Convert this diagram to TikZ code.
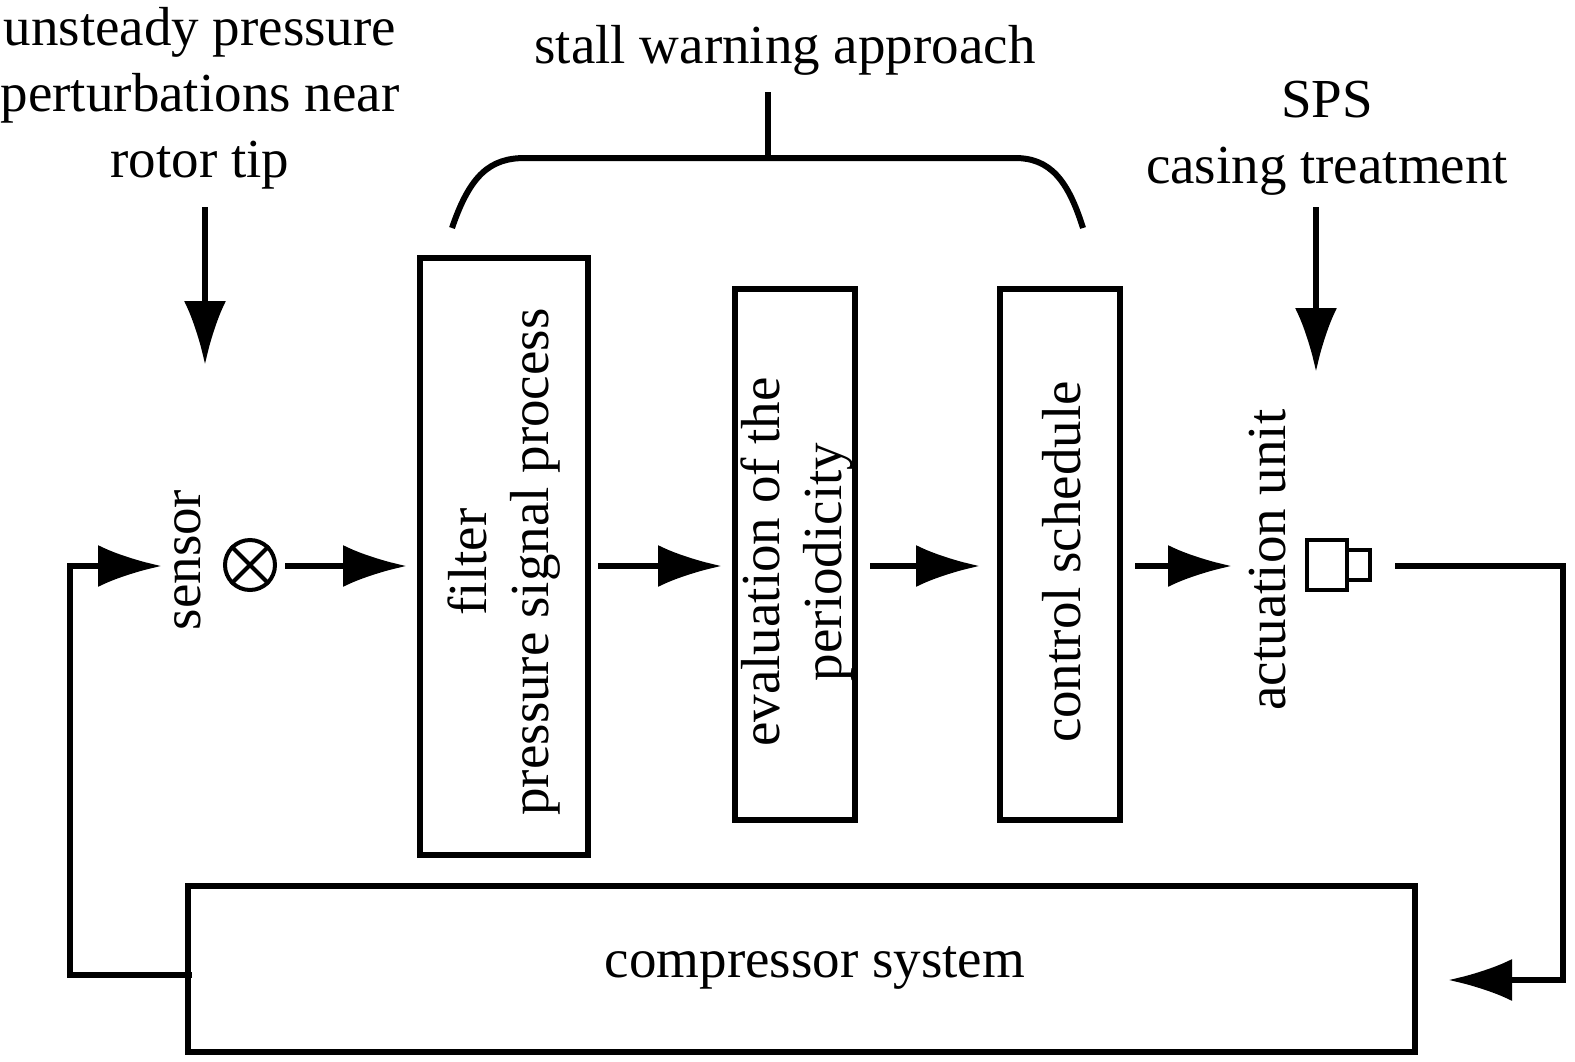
\documentclass[tikz,border=0pt]{standalone}
\usepackage{fontspec}
\setmainfont{Liberation Serif}
\usetikzlibrary{arrows.meta}
\begin{document}
\begin{tikzpicture}[x=0.5pt,y=-0.5pt,
  txt/.style={font=\fontsize{27.5}{31}\selectfont,inner sep=0pt,align=center},
  rtxt/.style={font=\fontsize{27.5}{31}\selectfont,inner sep=0pt,align=center,rotate=90},
  box/.style={draw,line width=2.6pt},
  ln/.style={line width=3pt},
  arr/.style={ln,-{Latex[length=32pt,width=21pt]}}]
\useasboundingbox (0,0) rectangle (1575,1061);
\node[txt] (t1) at (200,98) {unsteady pressure\\[2pt]perturbations near\\[2pt]rotor tip};
\node[txt] (t2) at (785,50) {stall warning approach};
\node[txt] (t3) at (1327,138) {SPS\\[2pt]casing treatment};
\coordinate (a1s) at (205,207); \coordinate (a1e) at (205,365);
\draw[arr] (a1s) -- (a1e);
\coordinate (a2s) at (1316,207); \coordinate (a2e) at (1316,372);
\draw[arr] (a2s) -- (a2e);
% brace
\coordinate (bt) at (768,92); \coordinate (bm) at (768,158);
\draw[ln] (bt) -- (bm);
\draw[ln] (452,228) .. controls (470,175) and (490,158) .. (525,158) -- (1015,158) .. controls (1050,158) and (1068,180) .. (1083,228);
% boxes
\draw[box] (420,258) rectangle (588,855);
\node[rtxt] (b1) at (504,562) {filter\\pressure signal process};
\draw[box] (735,289) rectangle (855,820);
\node[rtxt] (b2) at (797,562) {evaluation of the\\periodicity};
\draw[box] (1000,289) rectangle (1120,820);
\node[rtxt] (b3) at (1062,562) {control schedule};
\node[rtxt] (sen) at (188,560) {sensor};
\node[rtxt] (act) at (1268,560) {actuation unit};
\node[draw,circle,line width=2pt,minimum size=25pt,inner sep=0pt] (c) at (250,565) {};
\draw[line width=2pt] (c.45) -- (c.225) (c.135) -- (c.315);
\draw[line width=2pt] (1307,540) rectangle (1347,590) (1347,550) rectangle (1370,580);
% horizontal arrows
\coordinate (h1s) at (285,566); \coordinate (h1e) at (407,566);
\coordinate (h2s) at (598,566); \coordinate (h2e) at (722,566);
\coordinate (h3s) at (870,566); \coordinate (h3e) at (980,566);
\coordinate (h4s) at (1135,566); \coordinate (h4e) at (1232,566);
\draw[arr] (h1s) -- (h1e);
\draw[arr] (h2s) -- (h2e);
\draw[arr] (h3s) -- (h3e);
\draw[arr] (h4s) -- (h4e);
% compressor
\draw[box] (188,886) rectangle (1415,1052);
\node[txt] (comp) at (815,968) {compressor system};
\coordinate (l1) at (192,975); \coordinate (l2) at (70,975); \coordinate (l3) at (70,566); \coordinate (l4) at (162,566);
\draw[arr] (l1) -- (l2) -- (l3) -- (l4);
\coordinate (r1) at (1395,566); \coordinate (r2) at (1563,566); \coordinate (r3) at (1563,980); \coordinate (r4) at (1448,980);
\draw[arr] (r1) -- (r2) -- (r3) -- (r4);
\end{tikzpicture}
\end{document}
